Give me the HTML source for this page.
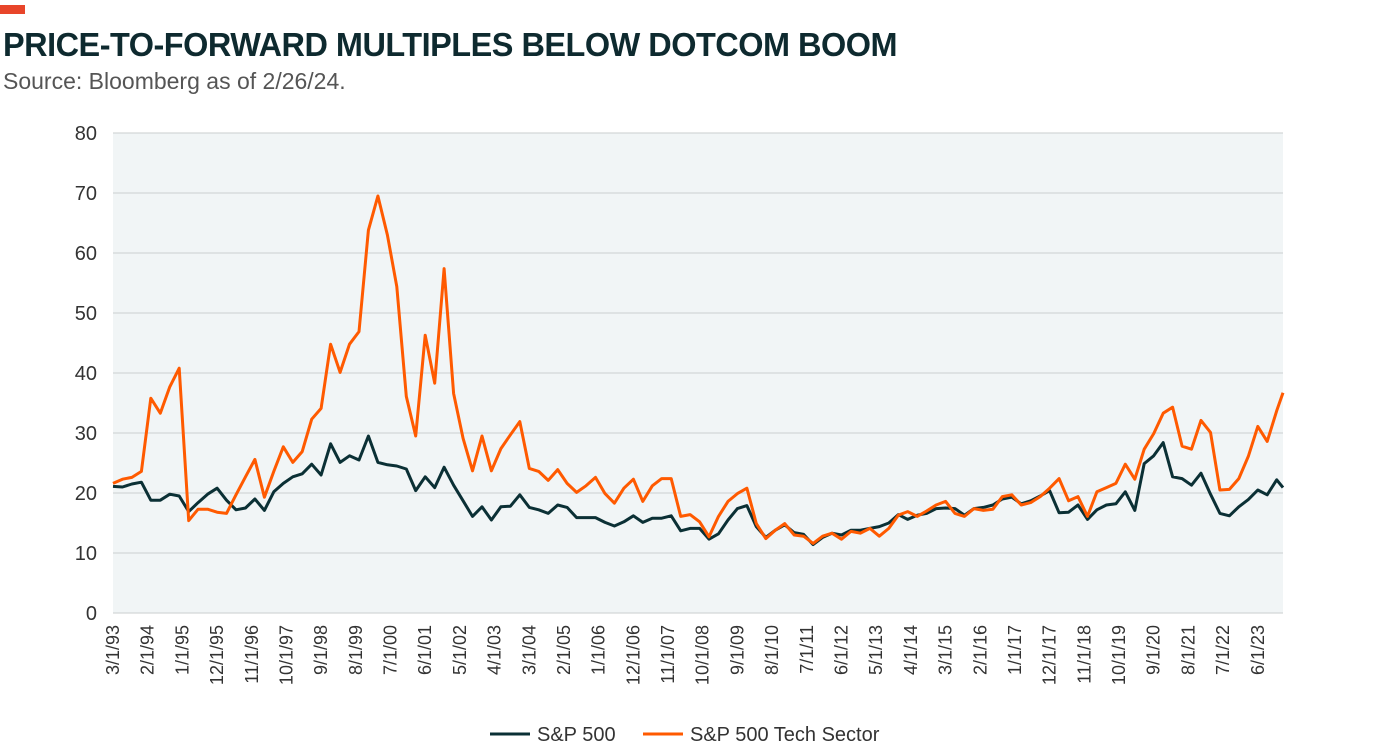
<!DOCTYPE html>
<html><head><meta charset="utf-8"><style>
body{margin:0;width:1379px;height:754px;background:#fff;overflow:hidden;font-family:"Liberation Sans",sans-serif;position:relative}
#title{position:absolute;left:3px;top:26px;font-size:33px;font-weight:bold;color:#0e2a2f;font-family:"Liberation Sans Narrow","Liberation Sans",sans-serif;white-space:nowrap;transform-origin:0 0;letter-spacing:-0.5px}
#src{position:absolute;left:3px;top:68px;font-size:23px;color:#555;white-space:nowrap}
#bar{position:absolute;left:0;top:5px;width:25px;height:9px;background:#e8452a}
</style></head><body>
<div id="bar"></div>
<div id="title">PRICE-TO-FORWARD MULTIPLES BELOW DOTCOM BOOM</div>
<div id="src">Source: Bloomberg as of 2/26/24.</div>
<svg id="chart" width="1379" height="754" style="position:absolute;left:0;top:0"></svg>
<script>
const yTicks=[0,10,20,30,40,50,60,70,80];
const xLabels=["3/1/93","2/1/94","1/1/95","12/1/95","11/1/96","10/1/97","9/1/98","8/1/99","7/1/00","6/1/01","5/1/02","4/1/03","3/1/04","2/1/05","1/1/06","12/1/06","11/1/07","10/1/08","9/1/09","8/1/10","7/1/11","6/1/12","5/1/13","4/1/14","3/1/15","2/1/16","1/1/17","12/1/17","11/1/18","10/1/19","9/1/20","8/1/21","7/1/22","6/1/23"];
const xLabelMonths=[0,11,22,33,44,55,66,77,88,99,110,121,132,143,154,165,176,187,198,209,220,231,242,253,264,275,286,297,308,319,330,341,352,363];
const pointMonths=[0,3,6,9,12,15,18,21,24,27,30,33,36,39,42,45,48,51,54,57,60,63,66,69,72,75,78,81,84,87,90,93,96,99,102,105,108,111,114,117,120,123,126,129,132,135,138,141,144,147,150,153,156,159,162,165,168,171,174,177,180,183,186,189,192,195,198,201,204,207,210,213,216,219,222,225,228,231,234,237,240,243,246,249,252,255,258,261,264,267,270,273,276,279,282,285,288,291,294,297,300,303,306,309,312,315,318,321,324,327,330,333,336,339,342,345,348,351,354,357,360,363,366,369,371];
const sp500=[21.1,21.0,21.5,21.8,18.8,18.8,19.8,19.5,16.9,18.4,19.8,20.8,18.8,17.2,17.5,19.0,17.1,20.2,21.6,22.7,23.2,24.8,23.0,28.2,25.1,26.2,25.5,29.5,25.1,24.7,24.5,24.0,
20.4,22.7,20.9,24.3,21.3,18.7,16.1,17.7,15.5,17.7,17.8,19.7,17.6,17.2,16.6,18.0,17.6,15.9,15.9,15.9,15.1,14.5,15.2,16.2,15.1,15.8,15.8,16.2,13.7,14.1,14.1,
12.3,13.2,15.5,17.4,17.9,14.4,12.6,13.8,14.7,13.4,13.1,11.4,12.6,13.3,13.0,13.8,13.8,14.1,14.4,15.0,16.4,15.6,16.3,16.6,17.4,17.5,17.4,16.3,17.4,
17.6,18.0,19.0,19.3,18.2,18.7,19.5,20.4,16.7,16.8,18.0,15.6,17.2,18.0,18.2,20.2,17.1,24.9,26.2,28.4,22.7,22.4,21.3,23.3,19.8,16.6,16.2,17.7,18.9,20.5,19.7,22.2,20.9];
const techSector=[21.6,22.3,22.6,23.6,35.8,33.3,37.7,40.8,15.4,17.3,17.3,16.8,16.6,19.7,22.7,25.6,19.3,23.6,27.7,25.1,26.9,32.3,34.1,44.8,40.1,44.8,46.9,63.8,69.5,63,54.4,36.1,
29.5,46.3,38.3,57.4,36.6,29.1,23.7,29.5,23.7,27.4,29.7,31.9,24.1,23.6,22.1,23.9,21.6,20.1,21.2,22.6,19.9,18.3,20.8,22.3,18.6,21.2,22.4,22.4,16.1,16.4,15.2,
12.7,16.1,18.6,19.9,20.8,14.9,12.4,13.8,14.9,13.0,12.8,11.6,12.8,13.3,12.3,13.6,13.3,14.1,12.8,14.1,16.3,16.9,16.1,17.0,18.0,18.6,16.6,16.1,17.4,
17.1,17.3,19.4,19.7,18.0,18.4,19.4,20.8,22.4,18.7,19.4,16.1,20.2,20.9,21.6,24.8,22.3,27.3,29.9,33.3,34.3,27.8,27.3,32.1,30.1,20.5,20.6,22.4,26.1,31.1,28.6,33.7,36.7];

const NS="http://www.w3.org/2000/svg";
const svg=document.getElementById('chart');
const L=113,R=1283,T=133,B=613,maxM=371;
const x=m=>L+m*(R-L)/maxM;
const y=v=>B-v*(B-T)/80;
function mk(tag,attrs,parent){const e=document.createElementNS(NS,tag);for(const k in attrs)e.setAttribute(k,attrs[k]);(parent||svg).appendChild(e);return e;}
const bg=mk('rect',{x:L,y:T,width:R-L,height:B-T,fill:'#f1f5f6'});


yTicks.forEach(t=>{
  const g=mk('line',{x1:L,x2:R,y1:y(t),y2:y(t),stroke:'#d3d6d8','stroke-width':1.3});
  
  
  const tx=mk('text',{x:97,y:y(t)+7,'text-anchor':'end','font-size':20,fill:'#333','font-family':'Liberation Sans, sans-serif'});
  tx.textContent=t;
  
  
});
xLabels.forEach((lab,i)=>{
  const xx=x(xLabelMonths[i]);
  const tx=mk('text',{x:0,y:0,'text-anchor':'end','font-size':18,fill:'#333','font-family':'Liberation Sans, sans-serif',transform:`translate(${xx+6},${625}) rotate(-90)`});
  tx.textContent=lab;
  
  
});
function series(vals,color,name){
  const d=vals.map((v,i)=>(i?'L':'M')+x(pointMonths[i]).toFixed(1)+','+y(v).toFixed(1)).join(' ');
  const p=mk('path',{d:d,fill:'none',stroke:color,'stroke-width':3,'stroke-linejoin':'round'});
  
  
}
series(sp500,'#0b3035','sp500-line');
series(techSector,'#ff5a00','tech-sector-line');
const l1=mk('line',{x1:490,x2:530,y1:734,y2:734,stroke:'#0b3035','stroke-width':3});


const t1=mk('text',{x:537,y:741,'font-size':20,fill:'#333','font-family':'Liberation Sans, sans-serif'});
t1.textContent='S&P 500';


const l2=mk('line',{x1:643,x2:683,y1:734,y2:734,stroke:'#ff5a00','stroke-width':3});


const t2=mk('text',{x:690,y:741,'font-size':20,fill:'#333','font-family':'Liberation Sans, sans-serif'});
t2.textContent='S&P 500 Tech Sector';


// fit title width
const ti=document.getElementById('title');const w=ti.getBoundingClientRect().width;ti.style.transform='scaleX('+(894/w)+')';
</script>
</body></html>
